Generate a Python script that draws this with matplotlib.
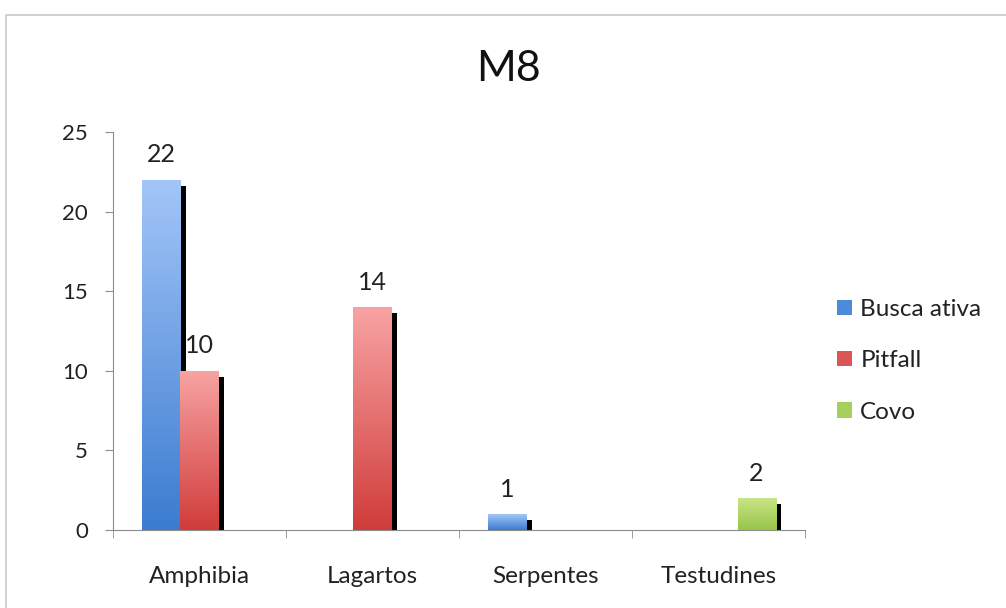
import numpy as np
import matplotlib
matplotlib.use('Agg')
import matplotlib.pyplot as plt
import matplotlib.patheffects as pe
from matplotlib.colors import LinearSegmentedColormap
from matplotlib.patches import Rectangle
from matplotlib.lines import Line2D

plt.rcParams['font.family'] = ['Lato', 'DejaVu Sans']

categorias = ['Amphibia', 'Lagartos', 'Serpentes', 'Testudines']
busca_ativa = [22, 0, 1, 0]
pitfall = [10, 14, 0, 0]
covo = [0, 0, 0, 2]

series = ['Busca ativa', 'Pitfall', 'Covo']
valores = [busca_ativa, pitfall, covo]
# top colour, bottom colour for gradient
cores = [('#a3c6f8', '#3b7cd0'), ('#f8a3a3', '#d03c3a'), ('#c9e585', '#97c44a')]
cores_legenda = ['#4d8ad9', '#dc5555', '#a6d05c']

fig = plt.figure(figsize=(10.06, 6.08), dpi=100)
# chart area border: only top and left edges are visible
fig.add_artist(Line2D([6 / 1006, 6 / 1006, 1.0], [0, 1 - 15 / 608, 1 - 15 / 608],
                      transform=fig.transFigure, color='#c8c8c8', linewidth=1.2))
ax = fig.add_axes([113 / 1006, 78 / 608, 692 / 1006, 398 / 608])

x = np.arange(len(categorias))
w = 0.22
grad = np.linspace(1, 0, 256).reshape(-1, 1)

for i, (nome, vals, (c_top, c_bot)) in enumerate(zip(series, valores, cores)):
    cmap = LinearSegmentedColormap.from_list(nome, [c_bot, c_top])
    xs = x + (i - 1) * w
    bars = ax.bar(xs, vals, width=w, color=c_bot, label=nome, zorder=2)
    for b, v in zip(bars, vals):
        if v == 0:
            b.set_visible(False)
            continue
        b.set_path_effects([pe.SimplePatchShadow(offset=(3.8, -4.4), shadow_rgbFace='black', alpha=1.0),
                            pe.Normal()])
        im = ax.imshow(grad, cmap=cmap, extent=[b.get_x(), b.get_x() + w, 0, v],
                       aspect='auto', zorder=3, vmin=0, vmax=1)
        im.set_clip_path(b)
        ax.text(b.get_x() + w / 2, v + 0.85, str(v), ha='center', va='bottom',
                fontsize=18, color='#222222', zorder=4)

ax.set_xlim(-0.5, len(categorias) - 0.5)
ax.set_ylim(0, 25)
ax.set_yticks(range(0, 26, 5))
ax.set_xticks(x)
ax.set_xticklabels(categorias)
ax.set_xticks(np.arange(-0.5, len(categorias), 1), minor=True)
ax.tick_params(axis='x', which='major', length=0, pad=26, labelsize=17.5, labelcolor='#222222')
ax.tick_params(axis='x', which='minor', length=5.5, color='#8c8c8c', direction='out')
ax.tick_params(axis='y', length=6, color='#8c8c8c', pad=12, labelsize=16, labelcolor='#222222')
for s in ['top', 'right']:
    ax.spines[s].set_visible(False)
for s in ['left', 'bottom']:
    ax.spines[s].set_color('#8c8c8c')

fig.text(508 / 1006, 1 - 69 / 608, 'M8', ha='center', va='center', fontsize=31, color='#111111')

handles = [Rectangle((0, 0), 1, 1, facecolor=c) for c in cores_legenda]
ax.legend(handles, series, loc='center left', bbox_to_anchor=(1.015, 0.425), frameon=False,
          fontsize=17.5, handlelength=0.6, handleheight=0.6, labelspacing=1.25, handletextpad=0.35,
          labelcolor='#222222')

fig.savefig('out.png', dpi=100)
